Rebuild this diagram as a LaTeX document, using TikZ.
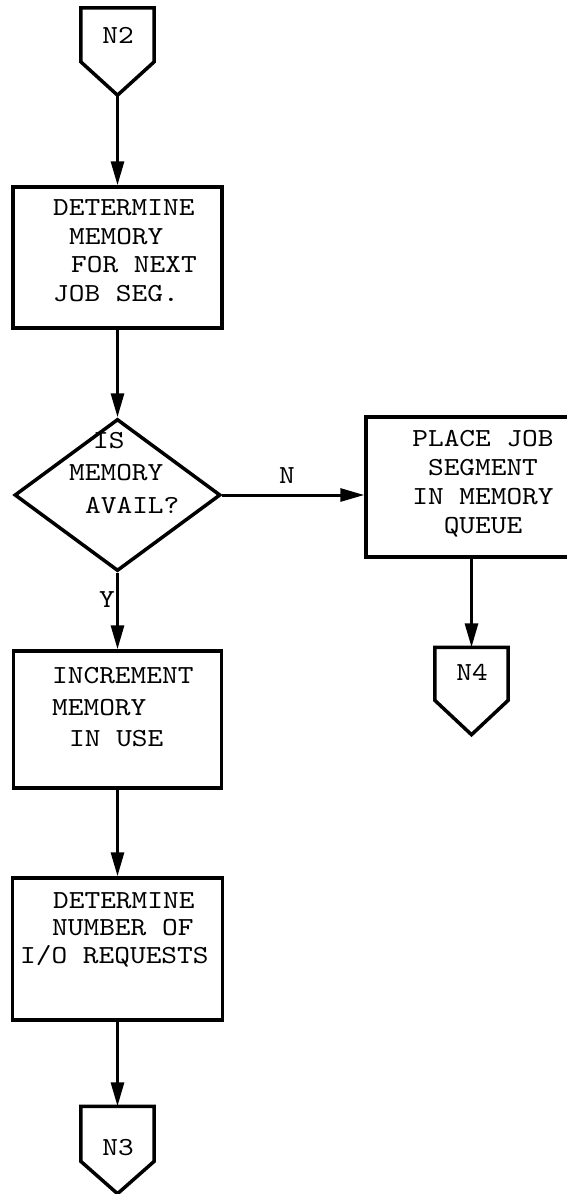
\documentclass[tikz,border=0pt]{standalone}
\usepackage{fontspec}
\setmonofont{lmmono10-regular.otf}[FakeStretch=1.15]
\usetikzlibrary{arrows.meta,calc,shapes.geometric}
\begin{document}
\begin{tikzpicture}[x=1pt,y=-1pt,
 box/.style={draw,line width=3.5pt,inner sep=0pt},
 txt/.style={font=\ttfamily\fontsize{26}{28.5}\selectfont,inner sep=0pt,align=left,anchor=west},
 lab/.style={font=\ttfamily\fontsize{26}{28}\selectfont,inner sep=0pt},
 conn/.style={inner sep=0pt,minimum width=73pt,minimum height=87pt},
 pent/.style={line width=3.5pt,line join=miter},
 flow/.style={line width=3pt,-{Triangle[length=24pt,width=13pt]}}]
\useasboundingbox (0,0) rectangle (567,1194);
\clip (0,0) rectangle (567,1194);
\fill[white] (0,0) rectangle (567,1194);

% process boxes
\node[box,minimum width=209pt,minimum height=141pt] (b1) at (117.5,257.5) {};
\node[box,minimum width=208pt,minimum height=137pt] (b2) at (117.5,719.5) {};
\node[box,minimum width=210pt,minimum height=142pt] (b3) at (117.5,949) {};
\node[box,minimum width=234pt,minimum height=140pt] (b4) at (483,487) {};
% decision
\node[draw,diamond,line width=3.5pt,inner sep=0pt,minimum width=206pt,minimum height=152pt] (d) at (117.5,495) {};

% off-page connectors
\node[conn] (n2) at (117.5,51.5) {};
\node[conn] (n4) at (471.5,691) {};
\node[conn] (n3) at (117.5,1150) {};
\draw[pent] (n2.north west) -- (n2.north east) -- ($(n2.north east)+(0,54)$) -- (n2.south) -- ($(n2.north west)+(0,54)$) -- cycle;
\draw[pent] (n4.north west) -- (n4.north east) -- ($(n4.north east)+(0,53)$) -- (n4.south) -- ($(n4.north west)+(0,53)$) -- cycle;
\draw[pent] (n3.north west) -- (n3.north east) -- ($(n3.north east)+(0,55)$) -- (n3.south) -- ($(n3.north west)+(0,55)$) -- cycle;
\node[lab] (n2t) at (118,35) {N2};
\node[lab] (n4t) at (472,672) {N4};
\node[lab] (n3t) at (118,1148) {N3};

% texts
\node[txt] (t1) at (53,250.5) {DETERMINE\\ \hspace*{16pt}MEMORY\\ \hspace*{18pt}FOR NEXT\\ JOB SEG.};
\node[txt,font=\ttfamily\fontsize{26}{32.5}\selectfont] (td) at (69,473) {\hspace*{24pt}IS\\ MEMORY\\ \hspace*{16pt}AVAIL?};
\node[txt,font=\ttfamily\fontsize{26}{31.5}\selectfont] (t2) at (52,707.5) {INCREMENT\\ MEMORY\\ \hspace*{17pt}IN USE};
\node[txt,font=\ttfamily\fontsize{26}{27.5}\selectfont] (t3) at (20,929.5) {\hspace*{33pt}DETERMINE\\ \hspace*{32pt}NUMBER OF\\ I/O REQUESTS};
\node[txt,align=center,anchor=center,font=\ttfamily\fontsize{26}{29}\selectfont] (t4) at (483,483.5) {PLACE JOB\\ SEGMENT\\ IN MEMORY\\ QUEUE};

% connectors
\draw[flow] (n2.south) -- (b1.north);
\draw[flow] (b1.south) -- (d.north);
\draw[flow] (d.east) -- (d.east -| b4.west);
\node[lab] (lN) at (287,476) {N};
\draw[flow] (d.south) -- (b2.north);
\node[lab] (lY) at (107,600) {Y};
\draw[flow] (b4.south -| n4.north) -- (n4.north);
\draw[flow] (b2.south) -- (b3.north);
\draw[flow] (b3.south) -- (n3.north);
\end{tikzpicture}
\end{document}
